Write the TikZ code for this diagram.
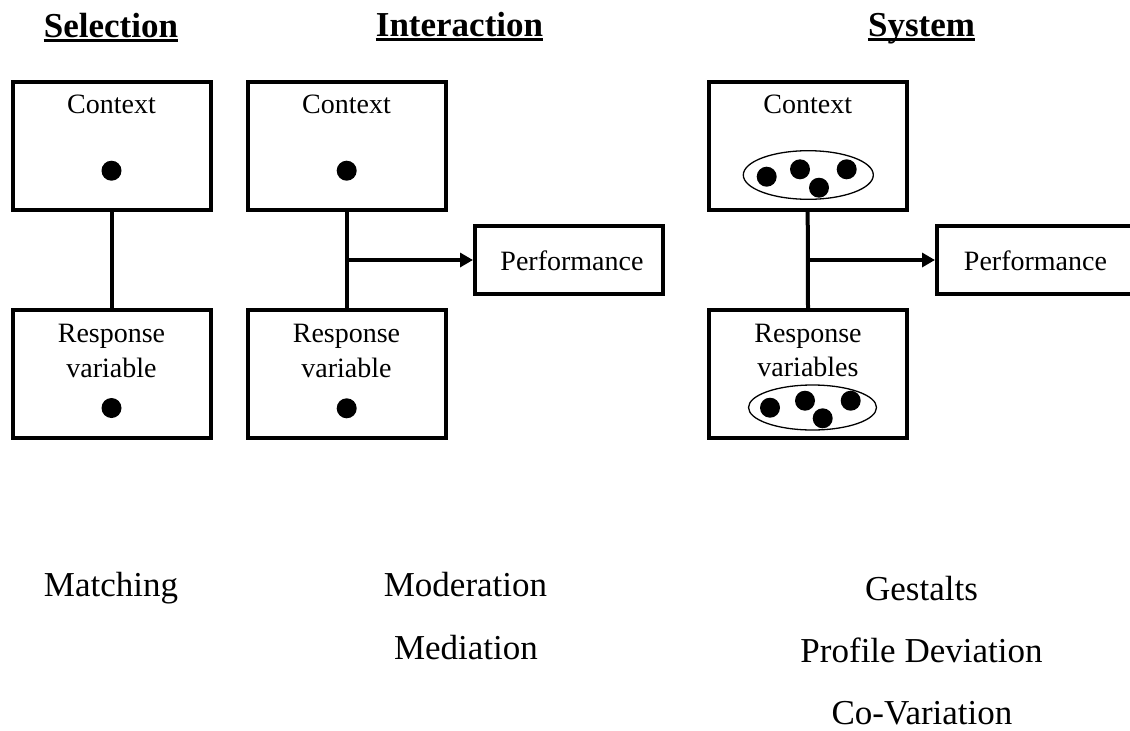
\documentclass[tikz,border=0pt]{standalone}
\usepackage{fontspec}
\setmainfont{Liberation Serif}
\newfontfamily\boxfont{Liberation Serif}
\newfontfamily\notefont{Liberation Serif}
\newfontfamily\headfont{Liberation Serif}
\usetikzlibrary{arrows.meta,shapes.geometric}

\begin{document}
\begin{tikzpicture}[x=1pt,y=-1pt,
  box/.style={draw, line width=4pt, minimum width=198pt, minimum height=128pt, inner sep=0pt},
  perfbox/.style={draw, line width=4pt, minimum height=68pt, inner sep=0pt},
  boxtext/.style={anchor=base, inner sep=0pt, font=\boxfont\fontsize{28}{32}\selectfont},
  note/.style={anchor=base, inner sep=0pt, font=\notefont\fontsize{35}{40}\selectfont},
  head/.style={anchor=base, inner sep=0pt, font=\headfont\bfseries\fontsize{35}{40}\selectfont},
  underl/.style={line width=2.5pt},
  dot/.style={circle, fill=black, inner sep=0pt, minimum size=20pt},
  group/.style={ellipse, draw, line width=1.3pt, inner sep=0pt},
  link/.style={line width=4pt},
  flow/.style={line width=3.5pt, -{Triangle[length=13pt,width=14pt]}}
]
\useasboundingbox (0,0) rectangle (1130,731);

% column headings
\node[head] (hsel) at (111,37) {Selection};
\node[head] (hint) at (459.5,36) {Interaction};
\node[head] (hsys) at (921.5,36) {System};
\foreach \h in {hsel,hint,hsys}
  \draw[underl] ([yshift=-3.5pt]\h.base west) -- ([yshift=-3.5pt]\h.base east);

% Selection
\node[box] (sctx) at (111.5,145.5) {};
\node[box] (sresp) at (111.5,373.5) {};
\node[boxtext] (sctxt) at (111.5,113.3) {Context};
\node[dot] (sctxd) at (111.5,170.7) {};
\node[boxtext] (sresp1) at (111.5,342) {Response};
\node[boxtext] (sresp2) at (111.5,377) {variable};
\node[dot] (srespd) at (111.5,408) {};
\draw[link] (sctx.south) -- (sresp.north);

% Interaction
\node[box] (ictx) at (346.5,145.5) {};
\node[box] (iresp) at (346.5,373.5) {};
\node[boxtext] (ictxt) at (346.5,113.3) {Context};
\node[dot] (ictxd) at (346.7,170.7) {};
\node[boxtext] (iresp1) at (346.5,342) {Response};
\node[boxtext] (iresp2) at (346.5,377) {variable};
\node[dot] (irespd) at (346.7,408.3) {};
\node[perfbox, minimum width=188pt] (iperf) at (569,260) {};
\node[boxtext] (iperft) at (572,270) {Performance};
\draw[link] (ictx.south) -- (iresp.north);
\draw[flow] (ictx.south |- iperf.west) -- (iperf.west);

% System
\node[box] (yctx) at (807.7,146) {};
\node[box] (yresp) at (808,374) {};
\node[boxtext] (yctxt) at (807.7,113.3) {Context};
\node[group, minimum width=130pt, minimum height=48.6pt] (yctxg) at (808.3,175) {};
\node[dot] (yc1) at (766.7,176.7) {};
\node[dot] (yc2) at (800,169.3) {};
\node[dot] (yc3) at (819,187.7) {};
\node[dot] (yc4) at (846.7,169.3) {};
\node[boxtext] (yresp1) at (808,342) {Response};
\node[boxtext] (yresp2) at (808,376) {variables};
\node[group, minimum width=128pt, minimum height=45pt] (yrespg) at (812.5,407.5) {};
\node[dot] (yr1) at (770,407.7) {};
\node[dot] (yr2) at (805,400.7) {};
\node[dot] (yr3) at (822.7,418.3) {};
\node[dot] (yr4) at (850.7,400.7) {};
\node[perfbox, minimum width=200pt] (yperf) at (1037,260) {};
\node[boxtext] (yperft) at (1035.5,270) {Performance};
\draw[link] (yctx.south) -- (yresp.north);
\draw[flow] (yctx.south |- yperf.west) -- (yperf.west);

% fit approaches
\node[note] (nmatch) at (111,596) {Matching};
\node[note] (nmod) at (465.5,596) {Moderation};
\node[note] (nmed) at (466,659) {Mediation};
\node[note] (nges) at (921.5,600) {Gestalts};
\node[note] (nprof) at (921.5,662) {Profile Deviation};
\node[note] (ncov) at (922,724) {Co-Variation};
\end{tikzpicture}
\end{document}
